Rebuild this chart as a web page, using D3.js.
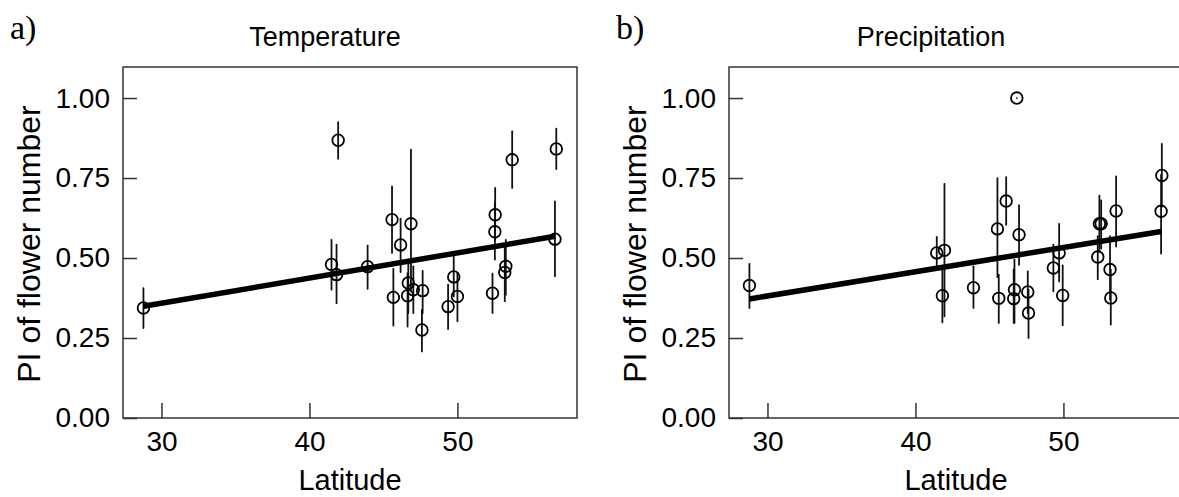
<!DOCTYPE html>
<html>
<head>
<meta charset="utf-8">
<script src="https://cdn.jsdelivr.net/npm/d3@7"></script>
<style>
  body { margin: 0; background: #fff; }
  text { font-family: "Liberation Sans", Arial, Helvetica, sans-serif; fill: #000; }
</style>
</head>
<body>
<div id="chart"></div>
<script>
// panel a) temperature
const tempLat  = [28.78, 41.94, 41.49, 41.83, 43.93, 45.58, 45.67, 46.16, 46.86, 46.68, 46.63, 47.02, 47.65,
                  47.60, 49.37, 49.75, 50.00, 52.37, 52.53, 52.55, 53.20, 53.27, 53.70, 56.68, 56.59];
const tempPI   = [0.344, 0.868, 0.480, 0.448, 0.473, 0.620, 0.377, 0.541, 0.607, 0.422, 0.382, 0.401, 0.398,
                  0.275, 0.348, 0.441, 0.380, 0.390, 0.582, 0.635, 0.455, 0.474, 0.807, 0.841, 0.559];
const tempLow  = [0.281, 0.810, 0.401, 0.359, 0.404, 0.516, 0.289, 0.456, 0.400, 0.328, 0.286, 0.328, 0.328,
                  0.208, 0.278, 0.380, 0.302, 0.328, 0.495, 0.557, 0.365, 0.385, 0.719, 0.778, 0.443];
const tempHigh = [0.406, 0.925, 0.557, 0.542, 0.539, 0.724, 0.466, 0.623, 0.839, 0.495, 0.453, 0.474, 0.460,
                  0.339, 0.417, 0.505, 0.453, 0.451, 0.672, 0.719, 0.536, 0.557, 0.896, 0.904, 0.677];
const tempFitLat = [28.78, 56.6];
const tempFitPI  = [0.349, 0.568];

// panel b) precipitation
const precLat  = [28.78, 41.44, 41.96, 41.82, 43.92, 45.54, 45.63, 46.13, 47.00, 46.69, 46.64, 46.85, 47.59,
                  47.64, 49.32, 49.71, 49.95, 52.32, 52.43, 52.55, 53.15, 53.20, 53.56, 56.65, 56.60];
const precPI   = [0.414, 0.516, 0.524, 0.382, 0.407, 0.591, 0.374, 0.678, 0.573, 0.401, 0.373, 1.000, 0.394,
                  0.328, 0.469, 0.516, 0.383, 0.503, 0.607, 0.607, 0.464, 0.375, 0.647, 0.758, 0.646];
const precLow  = [0.344, 0.474, 0.318, 0.299, 0.344, 0.440, 0.297, 0.604, 0.479, 0.297, 0.297, 1.000, 0.328,
                  0.250, 0.396, 0.427, 0.290, 0.434, 0.520, 0.530, 0.370, 0.292, 0.536, 0.660, 0.514];
const precHigh = [0.482, 0.566, 0.732, 0.474, 0.474, 0.750, 0.448, 0.753, 0.665, 0.495, 0.464, 1.000, 0.458,
                  0.401, 0.542, 0.607, 0.477, 0.568, 0.695, 0.680, 0.568, 0.464, 0.755, 0.857, 0.760];
const precFitLat = [28.78, 56.6];
const precFitPI  = [0.372, 0.583];

const yTicks = [0, 0.25, 0.5, 0.75, 1];
const xTicks = [30, 40, 50];

const W = 1179, H = 497;
const boxTop = 67, boxBottom = 418, boxW = 454;

const panels = [
  {tag: "a)", title: "Temperature", left: 123, lat: tempLat, pi: tempPI, lo: tempLow, hi: tempHigh, fitLat: tempFitLat, fitPI: tempFitPI},
  {tag: "b)", title: "Precipitation", left: 729, lat: precLat, pi: precPI, lo: precLow, hi: precHigh, fitLat: precFitLat, fitPI: precFitPI}
];

const svg = d3.select("#chart").append("svg")
    .attr("width", W).attr("height", H);
svg.append("rect").attr("width", W).attr("height", H).attr("fill", "#fff");

panels.forEach(p => {
  const x = d3.scaleLinear().domain([27.4, 58.08]).range([p.left, p.left + boxW]);
  const y = d3.scaleLinear().domain([0, 1.097]).range([boxBottom, boxTop]);
  const g = svg.append("g");

  const pts = p.lat.map((d, i) => ({lat: d, pi: p.pi[i], lo: p.lo[i], hi: p.hi[i]}));

  // error bars
  g.selectAll(".bar").data(pts).enter().append("line")
    .attr("x1", d => x(d.lat)).attr("x2", d => x(d.lat))
    .attr("y1", d => y(d.lo)).attr("y2", d => y(d.hi))
    .attr("stroke", "#111").attr("stroke-width", 1.8).attr("stroke-linecap", "round");

  g.selectAll(".pt").data(pts).enter().append("circle")
    .attr("cx", d => x(d.lat)).attr("cy", d => y(d.pi)).attr("r", 5.8)
    .attr("fill", "none").attr("stroke", "#000").attr("stroke-width", 1.8);

  const fit = p.fitLat.map((d, i) => [d, p.fitPI[i]]);
  g.append("path").datum(fit)
    .attr("d", d3.line().x(d => x(d[0])).y(d => y(d[1])))
    .attr("stroke", "#000").attr("stroke-width", 5.5).attr("fill", "none");

  // frame
  g.append("rect").attr("x", p.left).attr("y", boxTop)
    .attr("width", boxW).attr("height", boxBottom - boxTop)
    .attr("fill", "none").attr("stroke", "#333").attr("stroke-width", 1.5);

  const xa = g.append("g").attr("transform", `translate(0,${boxBottom})`)
    .call(d3.axisBottom(x).tickValues(xTicks).tickSizeInner(-15).tickSizeOuter(0).tickPadding(13));
  const ya = g.append("g").attr("transform", `translate(${p.left},0)`)
    .call(d3.axisLeft(y).tickValues(yTicks).tickFormat(d3.format(".2f")).tickSizeInner(-14).tickSizeOuter(0).tickPadding(13));
  [xa, ya].forEach(a => {
    a.select(".domain").remove();
    a.selectAll(".tick line").attr("stroke", "#333").attr("stroke-width", 1.5);
    a.selectAll(".tick text").style("font-size", "28px").attr("font-family", null);
  });

  g.append("text").attr("x", p.left + 202).attr("y", 46)
    .attr("text-anchor", "middle").style("font-size", "27px").text(p.title);
  g.append("text").attr("x", p.left + boxW / 2).attr("y", 490)
    .attr("text-anchor", "middle").style("font-size", "29px").text("Latitude");
  g.append("text").attr("transform", `translate(${p.left - 83},244) rotate(-90)`)
    .attr("text-anchor", "middle").style("font-size", "32px").text("PI of flower number");
  g.append("text").attr("x", p.left - 113).attr("y", 39)
    .style("font-family", "'Liberation Serif', 'Times New Roman', serif").style("font-size", "34px").text(p.tag);
});
</script>
</body>
</html>
